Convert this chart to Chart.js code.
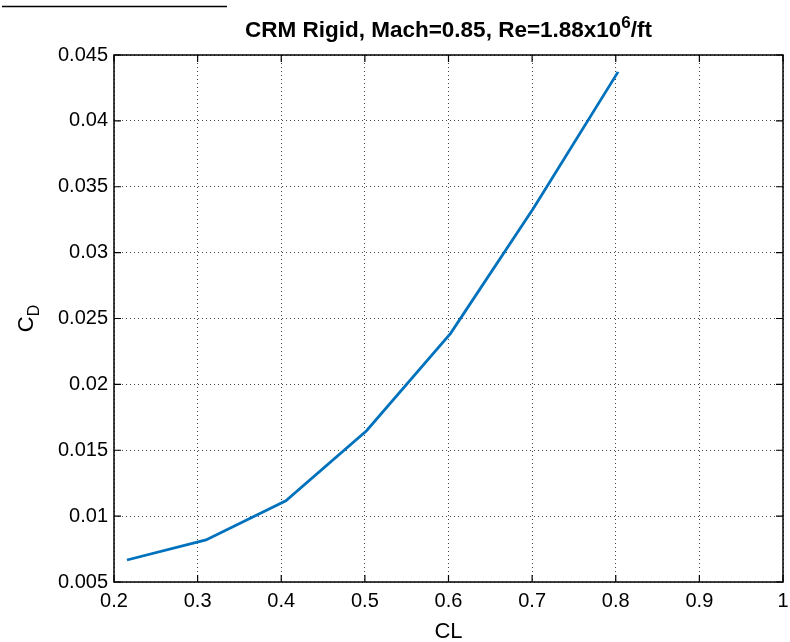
<!DOCTYPE html>
<html>
<head>
<meta charset="utf-8">
<script src="https://cdn.jsdelivr.net/npm/chart.js@4/dist/chart.umd.min.js"></script>
<style>
  body { margin: 0; background: #fff; }
  canvas { display: block; }
</style>
</head>
<body>
<canvas id="cdChart" width="790" height="642"></canvas>
<script>
// CL vs CD
const clValues = [0.2155, 0.310, 0.4055, 0.502, 0.6025, 0.702, 0.8028];
const cdValues = [0.00667, 0.00819, 0.01117, 0.01648, 0.02387, 0.0334, 0.04372];

const xTicks = [0.2, 0.3, 0.4, 0.5, 0.6, 0.7, 0.8, 0.9, 1];
const xTickLabels = ['0.2', '0.3', '0.4', '0.5', '0.6', '0.7', '0.8', '0.9', '1'];
const yTicks = [0.005, 0.01, 0.015, 0.02, 0.025, 0.03, 0.035, 0.04, 0.045];
const yTickLabels = ['0.005', '0.01', '0.015', '0.02', '0.025', '0.03', '0.035', '0.04', '0.045'];

const FONT = '"Liberation Sans", Arial, Helvetica, sans-serif';

// box, inward ticks, title with superscript, axis labels
const matlabAxes = {
    id: 'matlabAxes',
    afterDraw(chart) {
        const ctx = chart.ctx;
        const a = chart.chartArea;
        const xs = chart.scales.x, ys = chart.scales.y;
        ctx.save();

        // stray line at top left
        ctx.strokeStyle = '#000';
        ctx.lineWidth = 1.3;
        ctx.beginPath();
        ctx.moveTo(2, 6.5);
        ctx.lineTo(227, 6.5);
        ctx.stroke();

        // box
        ctx.lineWidth = 1.5;
        ctx.strokeRect(a.left, a.top, a.right - a.left, a.bottom - a.top);

        // inward ticks
        ctx.lineWidth = 1.2;
        const tl = 7;
        ctx.beginPath();
        xTicks.forEach(v => {
            const px = xs.getPixelForValue(v);
            ctx.moveTo(px, a.bottom); ctx.lineTo(px, a.bottom - tl);
            ctx.moveTo(px, a.top); ctx.lineTo(px, a.top + tl);
        });
        yTicks.forEach(v => {
            const py = ys.getPixelForValue(v);
            ctx.moveTo(a.left, py); ctx.lineTo(a.left + tl, py);
            ctx.moveTo(a.right, py); ctx.lineTo(a.right - tl, py);
        });
        ctx.stroke();

        // title
        ctx.fillStyle = '#000';
        ctx.textBaseline = 'alphabetic';
        const mainTxt = 'CRM Rigid, Mach=0.85, Re=1.88x10';
        const supTxt = '6';
        const tailTxt = '/ft';
        const tFont = 'bold 22.5px ' + FONT;
        const sFont = 'bold 17px ' + FONT;
        ctx.font = tFont;
        const w1 = ctx.measureText(mainTxt).width;
        const w3 = ctx.measureText(tailTxt).width;
        ctx.font = sFont;
        const w2 = ctx.measureText(supTxt).width;
        let tx = (a.left + a.right) / 2 - (w1 + w2 + w3) / 2;
        ctx.textAlign = 'left';
        ctx.font = tFont;
        ctx.fillText(mainTxt, tx, 37);
        ctx.font = sFont;
        ctx.fillText(supTxt, tx + w1, 28);
        ctx.font = tFont;
        ctx.fillText(tailTxt, tx + w1 + w2, 37);

        // x label
        ctx.font = '22px ' + FONT;
        ctx.textAlign = 'center';
        ctx.fillText('CL', (a.left + a.right) / 2, 638);

        // y label C_D
        ctx.translate(33, (a.top + a.bottom) / 2);
        ctx.rotate(-Math.PI / 2);
        ctx.font = '22px ' + FONT;
        const wc = ctx.measureText('C').width;
        ctx.font = '16px ' + FONT;
        const wd = ctx.measureText('D').width;
        ctx.textAlign = 'left';
        ctx.font = '22px ' + FONT;
        ctx.fillText('C', -(wc + wd) / 2, 0);
        ctx.font = '16px ' + FONT;
        ctx.fillText('D', -(wc + wd) / 2 + wc, 6);
        ctx.restore();
    }
};

const ctx = document.getElementById('cdChart').getContext('2d');
const cdChart = new Chart(ctx, {
    type: 'scatter',
    data: {
        datasets: [{
            data: clValues.map((cl, i) => ({ x: cl, y: cdValues[i] })),
            showLine: true,
            borderColor: '#0072BD',
            backgroundColor: '#0072BD',
            borderWidth: 2.8,
            pointRadius: 0,
            tension: 0
        }]
    },
    options: {
        responsive: false,
        animation: false,
        layout: { padding: { left: 0, top: 55, right: 7, bottom: 0 } },
        plugins: {
            legend: { display: false },
            tooltip: { enabled: false }
        },
        scales: {
            x: {
                type: 'linear',
                min: 0.2,
                max: 1,
                afterBuildTicks: s => { s.ticks = xTicks.map(v => ({ value: v })); },
                afterFit: s => { s.height = 60; s.paddingLeft = 0; s.paddingRight = 0; },
                border: { display: false, dash: [1, 3] },
                grid: { color: '#444', lineWidth: 1, drawTicks: false },
                ticks: {
                    padding: 7,
                    color: '#000',
                    maxRotation: 0,
                    autoSkip: false,
                    font: { family: FONT, size: 20 },
                    callback: (v, i) => xTickLabels[i]
                }
            },
            y: {
                type: 'linear',
                min: 0.005,
                max: 0.045,
                afterBuildTicks: s => { s.ticks = yTicks.map(v => ({ value: v })); },
                afterFit: s => { s.width = 114; s.paddingTop = 0; s.paddingBottom = 0; },
                border: { display: false, dash: [1, 3] },
                grid: { color: '#444', lineWidth: 1, drawTicks: false },
                ticks: {
                    padding: 6,
                    color: '#000',
                    autoSkip: false,
                    font: { family: FONT, size: 20 },
                    callback: (v, i) => yTickLabels[i]
                }
            }
        }
    },
    plugins: [matlabAxes]
});
</script>
</body>
</html>
